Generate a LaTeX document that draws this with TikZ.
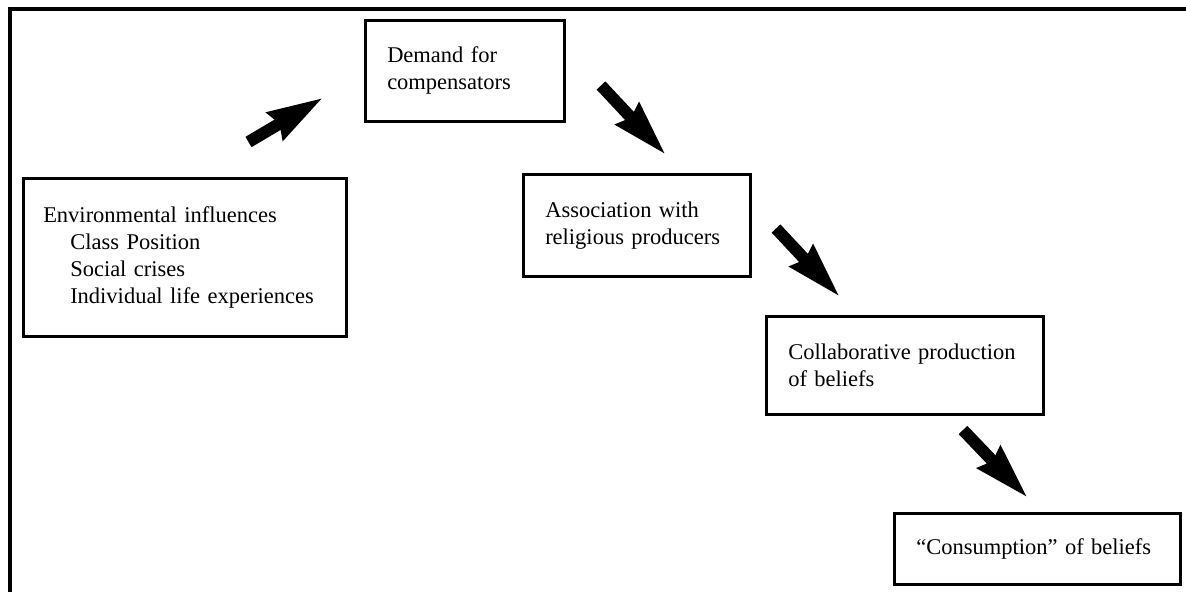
\documentclass[tikz,border=0pt]{standalone}
\usepackage{fontspec}
\setmainfont{Liberation Serif}
\usetikzlibrary{arrows.meta}
\tikzset{
  box/.style={draw,line width=2.5pt,rectangle,anchor=north west,inner xsep=22pt,inner ysep=0pt,
    align=left,font=\fontsize{22.5}{27}\selectfont},
  bigarrow/.style={line width=12pt,-{Stealth[length=55pt,width=30pt,inset=4pt]}},
  frameline/.style={line width=4pt}
}
\begin{document}
\begin{tikzpicture}[x=1pt,y=-1pt]
\useasboundingbox (0,0) rectangle (1186,592);
\draw[frameline] (9.5,592) -- (9.5,9) -- (1186,9);

\node[box,inner xsep=20pt,minimum width=323pt,minimum height=158pt,text width=283pt] (env) at (22,177)
  {Environmental influences\\\hspace*{27pt}Class Position\\\hspace*{27pt}Social crises\\\hspace*{27pt}Individual life experiences};
\node[box,minimum width=199pt,minimum height=101pt,text width=155pt] (demand) at (364,19)
  {Demand for\\compensators};
\node[box,minimum width=227pt,minimum height=102pt,text width=183pt] (assoc) at (522,173)
  {Association with\\religious producers};
\node[box,minimum width=277pt,minimum height=98pt,text width=233pt] (collab) at (765,315)
  {Collaborative production\\of beliefs};
\node[box,minimum width=286pt,minimum height=71pt,text width=242pt] (consume) at (893,512)
  {“Consumption” of beliefs};

\coordinate (a1s) at (248.5,142);
\coordinate (a1e) at (323.5,97.5);
\coordinate (a2s) at (601,85.5);
\coordinate (a2e) at (666,155);
\coordinate (a3s) at (776,228.5);
\coordinate (a3e) at (840,297);
\coordinate (a4s) at (963,430);
\coordinate (a4e) at (1028,498);
\draw[bigarrow] (a1s) -- (a1e);
\draw[bigarrow] (a2s) -- (a2e);
\draw[bigarrow] (a3s) -- (a3e);
\draw[bigarrow] (a4s) -- (a4e);
\end{tikzpicture}
\end{document}
